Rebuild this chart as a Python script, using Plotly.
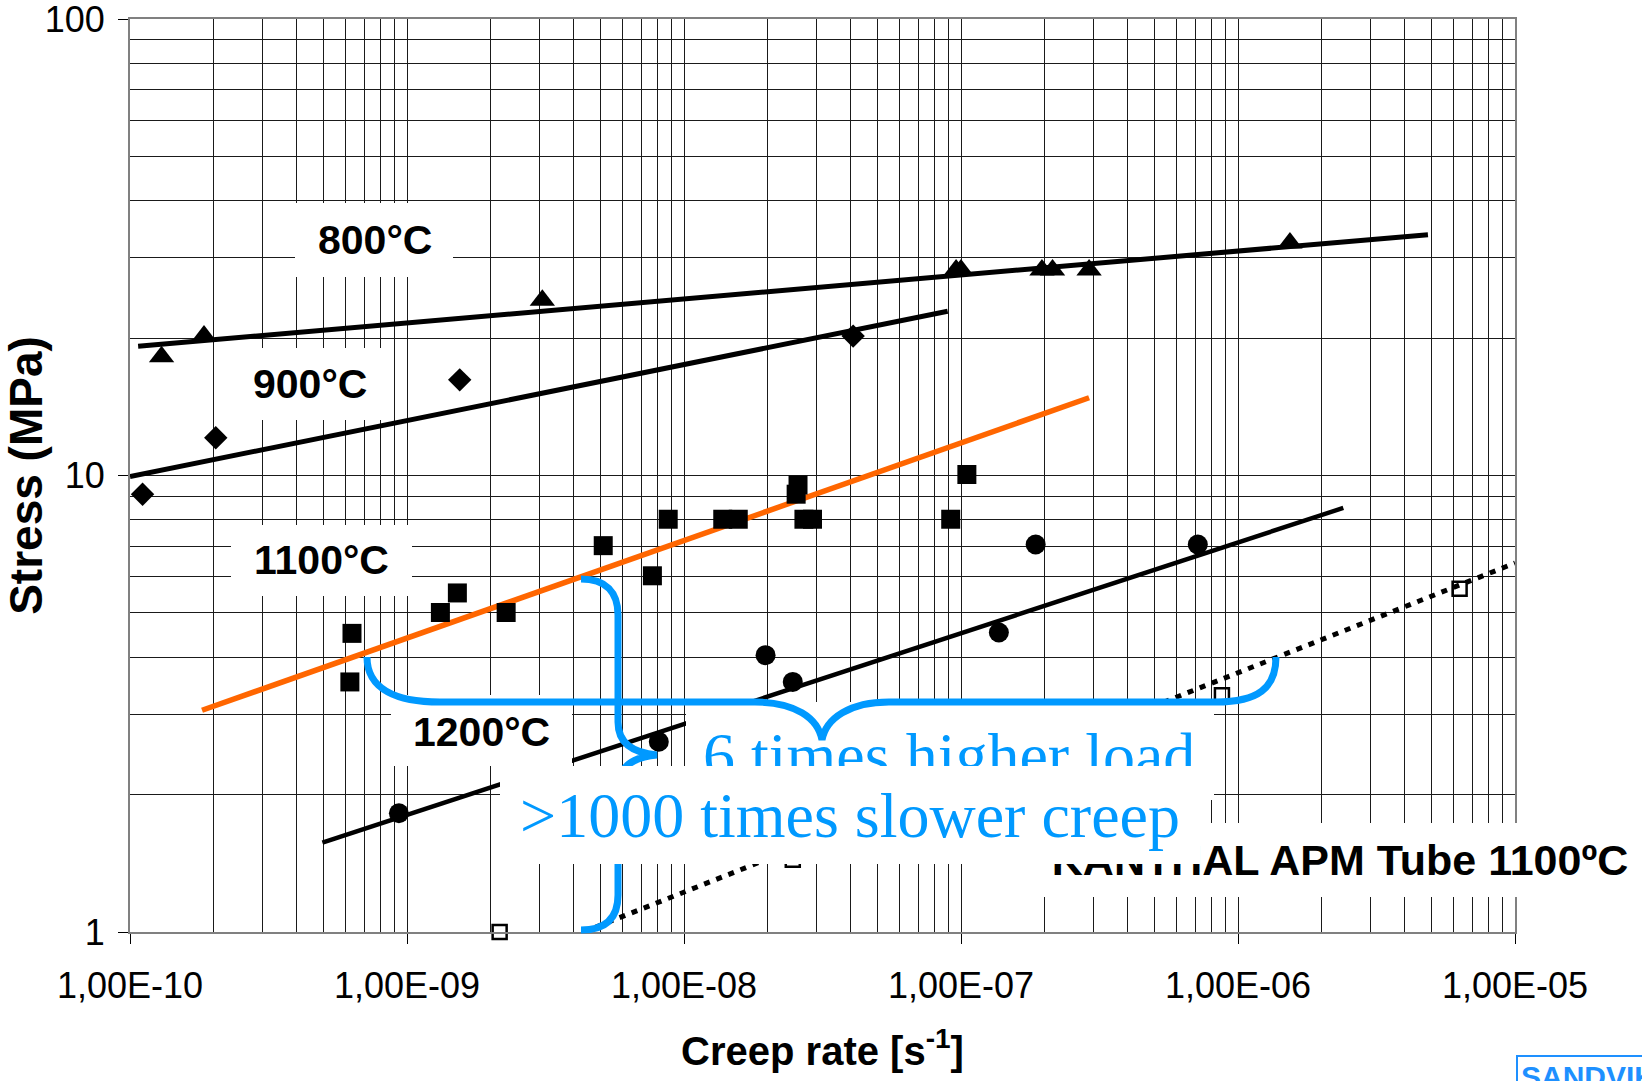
import plotly.graph_objects as go

# ---------------- data ----------------
x800 = [1.30e-10, 1.85e-10, 3.08e-9, 9.6e-8, 1.0e-7, 1.96e-7, 2.14e-7, 2.9e-7, 1.54e-6]
y800 = [18.2, 20.2, 24.2, 28.2, 28.2, 28.2, 28.2, 28.2, 32.3]
fit800_x = [1.07e-10, 4.85e-6]
fit800_y = [19.2, 33.7]

x900 = [1.11e-10, 2.04e-10, 1.55e-9, 4.08e-8]
y900 = [9.1, 12.1, 16.2, 20.2]
fit900_x = [1.0e-10, 8.95e-8]
fit900_y = [9.95, 22.9]

x1100 = [6.33e-10, 6.22e-10, 1.32e-9, 1.52e-9, 2.28e-9, 5.11e-9, 7.69e-9, 8.77e-9,
         1.38e-8, 1.57e-8, 2.54e-8, 2.58e-8, 2.71e-8, 2.91e-8, 9.18e-8, 1.05e-7]
y1100 = [4.51, 3.53, 5.01, 5.53, 5.01, 7.02, 6.03, 8.02,
         8.02, 8.02, 9.1, 9.53, 8.02, 8.02, 8.02, 10.05]
fit1100_x = [1.82e-10, 2.9e-7]
fit1100_y = [3.06, 14.8]

x1200 = [9.35e-10, 8.11e-9, 1.97e-8, 2.47e-8, 1.37e-7, 1.86e-7, 7.16e-7]
y1200 = [1.82, 2.61, 4.04, 3.53, 4.53, 7.06, 7.06]
fit1200_x = [4.95e-10, 2.4e-6]
fit1200_y = [1.57, 8.49]

xapm = [2.16e-9, 2.47e-8, 8.75e-7, 6.31e-6]
yapm = [1.0, 1.44, 3.30, 5.65]
fitapm_x = [4.33e-9, 1.0e-5]
fitapm_y = [1.0, 6.43]

x_tickvals = [1e-10, 1e-9, 1e-8, 1e-7, 1e-6, 1e-5]
x_ticktext = ["1,00E-10", "1,00E-09", "1,00E-08", "1,00E-07", "1,00E-06", "1,00E-05"]
y_tickvals = [1, 10, 100]
y_ticktext = ["1", "10", "100"]

x_minor = [m * d for d in x_tickvals[:-1] for m in range(2, 10)]
y_minor = [m * d for d in y_tickvals[:-1] for m in range(2, 10)]

# ---------------- layout geometry (pixels of the 1642x1081 page) ----------------
W, H = 1642, 1081
L, R, T, B = 130, 1515, 19, 932


def px(x):
    return (x - L) / (R - L)


def py(y):
    return (B - y) / (B - T)


BLUE = "#0099FF"
SANS = "Liberation Sans, Arial, sans-serif"
SERIF = "Liberation Serif, Times New Roman, serif"

fig = go.Figure()

line_black = dict(color="black", width=5)
fig.add_trace(go.Scatter(x=fit800_x, y=fit800_y, mode="lines", line=line_black, showlegend=False))
fig.add_trace(go.Scatter(x=fit900_x, y=fit900_y, mode="lines", line=line_black, showlegend=False))
fig.add_trace(go.Scatter(x=fit1200_x, y=fit1200_y, mode="lines", line=dict(color="black", width=4.5), showlegend=False))
fig.add_trace(go.Scatter(x=fitapm_x, y=fitapm_y, mode="lines",
                         line=dict(color="black", width=5, dash="6px,7px"), showlegend=False))
fig.add_trace(go.Scatter(x=fit1100_x, y=fit1100_y, mode="lines",
                         line=dict(color="#FF6600", width=5.5), showlegend=False))

fig.add_trace(go.Scatter(x=x800, y=y800, mode="markers", cliponaxis=False, showlegend=False,
                         marker=dict(symbol="triangle-up", size=22, color="black")))
fig.add_trace(go.Scatter(x=x900, y=y900, mode="markers", cliponaxis=False, showlegend=False,
                         marker=dict(symbol="diamond", size=18, color="black")))
fig.add_trace(go.Scatter(x=x1100, y=y1100, mode="markers", cliponaxis=False, showlegend=False,
                         marker=dict(symbol="square", size=19, color="black")))
fig.add_trace(go.Scatter(x=x1200, y=y1200, mode="markers", cliponaxis=False, showlegend=False,
                         marker=dict(symbol="circle", size=20, color="black")))
fig.add_trace(go.Scatter(x=xapm, y=yapm, mode="markers", cliponaxis=False, showlegend=False,
                         marker=dict(symbol="square-open", size=14, color="black",
                                     line=dict(color="black", width=2.5))))

# ---------------- white label boxes (shapes, above traces) ----------------
boxes = [
    (295, 203, 453, 277),   # 800
    (221, 348, 389, 420),   # 900
    (231, 525, 412, 596),   # 1100
    (391, 695, 572, 766),   # 1200
    (686, 702, 1214, 800),  # 6 times higher load
]
shapes = []
for (x0, y0, x1, y1) in boxes:
    shapes.append(dict(type="rect", xref="paper", yref="paper", layer="above",
                       x0=px(x0), x1=px(x1), y0=py(y1), y1=py(y0),
                       fillcolor="white", line=dict(width=0)))


def path(cmds):
    out = []
    for c in cmds:
        op, pts = c[0], c[1:]
        s = op + " " + " ".join("%.5f,%.5f" % (px(pts[i]), py(pts[i + 1])) for i in range(0, len(pts), 2))
        out.append(s)
    return " ".join(out)


brace_h = path([
    ("M", 367, 657),
    ("C", 367, 690, 398, 702, 440, 702),
    ("L", 755, 702),
    ("C", 795, 702, 818, 718, 822, 740),
    ("C", 826, 718, 850, 702, 889, 702),
    ("L", 1216, 702),
    ("C", 1258, 702, 1276, 688, 1276, 657),
])
brace_v = path([
    ("M", 581, 579),
    ("C", 606, 579, 618, 592, 618, 615),
    ("L", 618, 722),
    ("C", 618, 744, 634, 753, 657, 755),
    ("C", 634, 757, 618, 766, 618, 788),
    ("L", 618, 895),
    ("C", 618, 918, 606, 930, 581, 930),
])
for p in (brace_h, brace_v):
    shapes.append(dict(type="path", xref="paper", yref="paper", layer="above", path=p,
                       line=dict(color=BLUE, width=7)))

# ---------------- text annotations ----------------
annotations = []


def label(text, cx, cy, size, family=SANS, color="black", **kw):
    d = dict(text=text, x=px(cx), y=py(cy), xref="paper", yref="paper",
             xanchor="center", yanchor="middle", showarrow=False,
             font=dict(family=family, size=size, color=color))
    d.update(kw)
    annotations.append(d)


label("<b>800°C</b>", 375, 240, 41)
label("<b>900°C</b>", 310, 384, 41)
label("<b>1100°C</b>", 321, 560, 41)
label("<b>1200°C</b>", 481, 732, 41)
label("6 times higher load", 949, 755, 64, family=SERIF, color=BLUE)
label("<b>KANTHAL APM Tube 1100ºC</b>", 1340, 860, 43,
      bgcolor="white", width=604, height=74, borderpad=0, borderwidth=0)
label(">1000 times slower creep", 850, 815, 64, family=SERIF, color=BLUE,
      bgcolor="white", width=700, height=98, borderpad=0, borderwidth=0)
annotations.append(dict(text="<b>SANDVIK</b>", x=px(1516), y=py(1055), xref="paper", yref="paper",
                        xanchor="left", yanchor="top", showarrow=False,
                        font=dict(family=SANS, size=30, color="#1E90FF"),
                        bgcolor="white", bordercolor="#1E90FF", borderwidth=2, borderpad=3))

grid = "#1a1a1a"
fig.update_layout(
    width=W, height=H,
    margin=dict(l=L, r=W - R, t=T, b=H - B, autoexpand=False),
    paper_bgcolor="white", plot_bgcolor="white",
    font=dict(family=SANS, color="black"),
    shapes=shapes, annotations=annotations,
    xaxis=dict(
        type="log", range=[-10, -5],
        tickmode="array", tickvals=x_tickvals, ticktext=x_ticktext,
        tickfont=dict(size=36, family=SANS, color="black"),
        ticks="outside", ticklen=10, tickwidth=1, tickcolor="black",
        ticklabelstandoff=11, ticklabeloverflow="allow",
        showgrid=True, gridcolor=grid, gridwidth=1,
        minor=dict(tickmode="array", tickvals=x_minor, showgrid=True, gridcolor=grid, gridwidth=1, ticks=""),
        showline=True, linecolor="#808080", linewidth=2, mirror=True, zeroline=False,
        title=dict(text="<b>Creep rate [s<sup>-1</sup>]</b>", font=dict(size=40, family=SANS, color="black"),
                   standoff=32),
    ),
    yaxis=dict(
        type="log", range=[0, 2],
        tickmode="array", tickvals=y_tickvals, ticktext=y_ticktext,
        tickfont=dict(size=36, family=SANS, color="black"),
        ticks="outside", ticklen=10, tickwidth=1, tickcolor="black",
        ticklabelstandoff=6, ticklabeloverflow="allow",
        showgrid=True, gridcolor=grid, gridwidth=1,
        minor=dict(tickmode="array", tickvals=y_minor, showgrid=True, gridcolor=grid, gridwidth=1, ticks=""),
        showline=True, linecolor="#808080", linewidth=2, mirror=True, zeroline=False,
        title=dict(text="<b>Stress (MPa)</b>", font=dict(size=46, family=SANS, color="black"),
                   standoff=17),
    ),
)

fig.write_html("out.html", config={"displayModeBar": False},
               post_script="document.body.style.margin='0';document.body.style.overflow='hidden';")
